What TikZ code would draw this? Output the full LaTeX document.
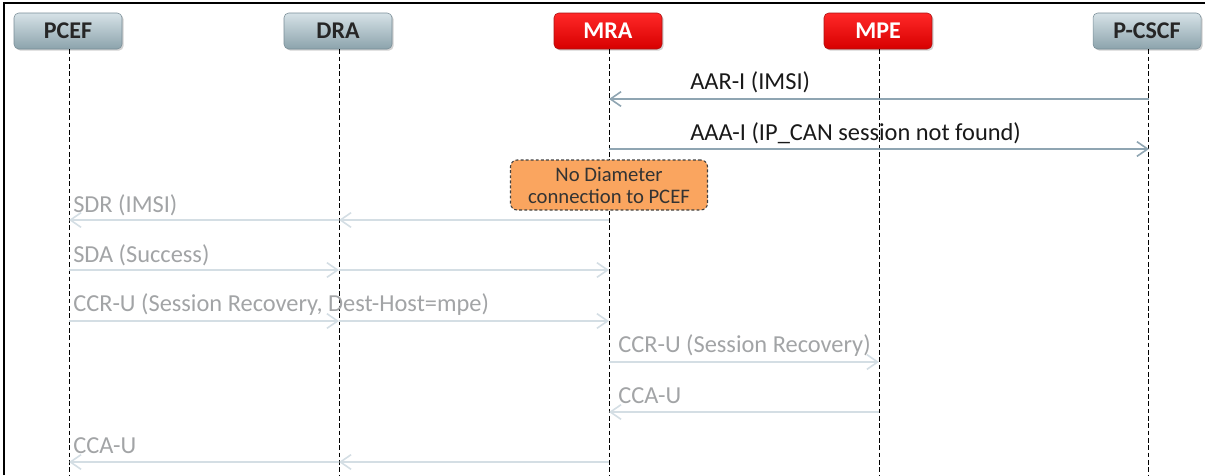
\documentclass[tikz,border=0pt]{standalone}
\usepackage{fontspec}
\setmainfont{Carlito}
\usetikzlibrary{arrows.meta,shadows,calc}
\definecolor{gtop}{RGB}{214,226,231}
\definecolor{gbot}{RGB}{140,163,172}
\definecolor{gedge}{RGB}{120,140,150}
\definecolor{rtop}{RGB}{255,40,40}
\definecolor{rbot}{RGB}{215,0,0}
\definecolor{redge}{RGB}{170,20,20}
\definecolor{darkmsg}{RGB}{143,165,178}
\definecolor{lightmsg}{RGB}{212,222,228}
\definecolor{lighttext}{RGB}{162,164,166}
\definecolor{notefill}{RGB}{250,165,95}
\begin{document}
\begin{tikzpicture}[x=0.75pt,y=-0.75pt,
  actor/.style={rounded corners=3.5pt, minimum width=81pt, minimum height=27pt,
    inner sep=0pt, font=\fontsize{18}{20}\selectfont\bfseries,
    drop shadow={shadow xshift=1.2pt, shadow yshift=-1.2pt, opacity=0.35}},
  grayactor/.style={actor, top color=gtop, bottom color=gbot, draw=gedge, text=black!85},
  redactor/.style={actor, top color=rtop, bottom color=rbot, draw=redge, text=white},
  life/.style={dash pattern=on 3.5pt off 2pt, line width=0.6pt},
  tip/.style={-{Straight Barb[length=8pt,width=11pt,line width=1.2pt]}},
  darkarrow/.style={tip, draw=darkmsg, line width=1.9pt},
  lightarrow/.style={tip, draw=lightmsg, line width=1.9pt},
  darklabel/.style={anchor=west, inner sep=0pt, font=\fontsize{18.3}{20}\selectfont, text=black!90},
  lightlabel/.style={anchor=west, inner sep=0pt, font=\fontsize{18.3}{20}\selectfont, text=lighttext},
  note/.style={rounded corners=5pt, fill=notefill, draw=black!75, dash pattern=on 2.2pt off 1.6pt,
    line width=0.8pt, minimum width=147.75pt, minimum height=37.5pt, inner sep=0pt,
    align=center, font=\fontsize{15.5}{16.5}\selectfont, text=black!80},
]
\useasboundingbox (0,0) rectangle (1205,475);
% outer frame (top and left edges)
\draw[line width=1.2pt] (4,475) -- (4,3) -- (1205,3);

% actors
\node[grayactor] (pcef)  at (68,31)   {PCEF};
\node[grayactor] (dra)   at (338,31)  {DRA};
\node[redactor]  (mra)   at (608,31)  {MRA};
\node[redactor]  (mpe)   at (878,31)  {MPE};
\node[grayactor] (pcscf) at (1147,31) {P-CSCF};

% lifelines
\coordinate (bottom) at (0,475);
\foreach \a in {pcef,dra,mra,mpe,pcscf}
  \draw[life] ([xshift=0.75pt]\a.south) -- ([xshift=0.75pt]\a.south |- bottom);

% message rows
\coordinate (r1) at (0,99);
\coordinate (r2) at (0,149);
\coordinate (r3) at (0,220);
\coordinate (r4) at (0,270);
\coordinate (r5) at (0,321);
\coordinate (r6) at (0,362);
\coordinate (r7) at (0,412);
\coordinate (r8) at (0,462);

\coordinate (lpcef)  at (69,0);
\coordinate (ldra)   at (339,0);
\coordinate (lmra)   at (609,0);
\coordinate (lmpe)   at (879,0);
\coordinate (lpcscf) at (1149,0);

% AAR-I / AAA-I
\draw[darkarrow] (lpcscf |- r1) -- (lmra |- r1);
\node[darklabel] (aar) at (690,82) {AAR-I (IMSI)};
\draw[darkarrow] (lmra |- r2) -- (lpcscf |- r2);
\node[darklabel] (aaa) at (690,133) {AAA-I (IP\_CAN session not found)};

% note
\node[note] (nodiam) at (609,185) {No Diameter\\connection to PCEF};

% SDR
\draw[lightarrow] (lmra |- r3) -- (ldra |- r3);
\draw[lightarrow] (ldra |- r3) -- (lpcef |- r3);
\node[lightlabel] (sdr) at (73,205) {SDR (IMSI)};

% SDA
\draw[lightarrow] (lpcef |- r4) -- (ldra |- r4);
\draw[lightarrow] (ldra |- r4) -- (lmra |- r4);
\node[lightlabel] (sda) at (73,255) {SDA (Success)};

% CCR-U towards MRA
\draw[lightarrow] (lpcef |- r5) -- (ldra |- r5);
\draw[lightarrow] (ldra |- r5) -- (lmra |- r5);
\node[lightlabel] (ccr1) at (73,305) {CCR-U (Session Recovery, Dest-Host=mpe)};

% CCR-U towards MPE
\draw[lightarrow] (lmra |- r6) -- (lmpe |- r6);
\node[lightlabel] (ccr2) at (618,346) {CCR-U (Session Recovery)};

% CCA-U from MPE
\draw[lightarrow] (lmpe |- r7) -- (lmra |- r7);
\node[lightlabel] (cca1) at (618,396) {CCA-U};

% CCA-U towards PCEF
\draw[lightarrow] (lmra |- r8) -- (ldra |- r8);
\draw[lightarrow] (ldra |- r8) -- (lpcef |- r8);
\node[lightlabel] (cca2) at (73,446) {CCA-U};
\end{tikzpicture}
\end{document}
